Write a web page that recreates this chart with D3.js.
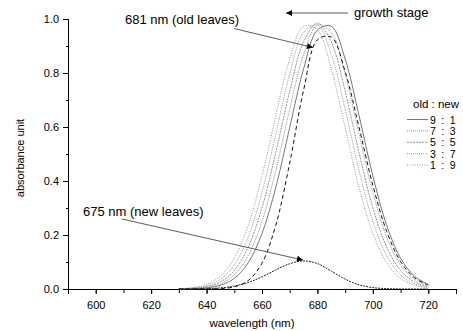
<!DOCTYPE html>
<html><head><meta charset="utf-8">
<script src="https://cdn.jsdelivr.net/npm/d3@7"></script>
<style>body{margin:0;background:#fff}svg{display:block}text{font-family:"Liberation Sans",Arial,sans-serif;fill:#000}</style>
</head><body><svg id="c" width="463" height="331"></svg>
<script>
const wavelengths = [630,635,640,645,650,655,660,665,670,675,680,685,690,695,700,705,710,715,720];
const ratioLabels = ["9 : 1","7 : 3","5 : 5","3 : 7","1 : 9"];
const mix91 = [0.0002,0.0011,0.0041,0.0138,0.0393,0.0968,0.206,0.377,0.598,0.815,0.959,0.973,0.852,0.643,0.419,0.235,0.114,0.0476,0.0171];
const mix73 = [0.0004,0.0017,0.0060,0.0191,0.0523,0.123,0.251,0.440,0.666,0.869,0.978,0.950,0.796,0.574,0.358,0.192,0.089,0.0357,0.0123];
const mix55 = [0.0006,0.0025,0.0087,0.0263,0.0687,0.155,0.301,0.506,0.733,0.915,0.985,0.915,0.733,0.506,0.301,0.155,0.0687,0.0263,0.0087];
const mix37 = [0.0009,0.0036,0.0123,0.0357,0.089,0.192,0.358,0.574,0.796,0.950,0.978,0.869,0.666,0.440,0.251,0.123,0.0523,0.0191,0.0060];
const mix19 = [0.0014,0.0053,0.0171,0.0476,0.114,0.235,0.419,0.643,0.852,0.973,0.959,0.815,0.598,0.377,0.206,0.0968,0.0393,0.0138,0.0041];
const oldLeaves = [0,0,0.0003,0.0016,0.0079,0.031,0.096,0.237,0.467,0.736,0.923,0.933,0.805,0.599,0.384,0.213,0.102,0.0417,0.0148];
const newLeaves = [0.0001,0.0003,0.0013,0.0041,0.0109,0.0242,0.0452,0.0709,0.0936,0.104,0.094,0.0662,0.0364,0.0155,0.0052,0.0013,0.0003,0.0001,0];
const xTicks = [600,620,640,660,680,700,720];
const yTicks = [0.0,0.2,0.4,0.6,0.8,1.0];

const svg = d3.select("#c");
const x = d3.scaleLinear().domain([590,730]).range([68,456]);
const y = d3.scaleLinear().domain([0,1]).range([289,19]);

svg.append("defs").append("marker").attr("id","ah").attr("viewBox","0 0 10 10")
  .attr("refX",10).attr("refY",5).attr("markerWidth",8).attr("markerHeight",6)
  .attr("markerUnits","userSpaceOnUse").attr("orient","auto")
  .append("path").attr("d","M0,0L10,5L0,10z").attr("fill","#000");

const xMinor = d3.range(590,731,10);
const xa = svg.append("g").attr("transform","translate(0,289)");
xa.call(d3.axisBottom(x).tickValues(xMinor).tickSize(4).tickFormat(""));
xa.append("g").call(d3.axisBottom(x).tickValues(xTicks).tickSize(5).tickFormat(d3.format("d")));
const ya = svg.append("g").attr("transform","translate(68,0)");
ya.call(d3.axisLeft(y).tickValues(d3.range(0,1.01,0.1)).tickSize(2).tickFormat(""));
ya.append("g").call(d3.axisLeft(y).tickValues(yTicks).tickSize(5).tickFormat(d3.format(".1f")));
svg.selectAll(".domain").attr("stroke","#000");
svg.selectAll(".tick line").attr("stroke","#000");
svg.selectAll(".tick text").style("font-size","11px").attr("fill","#000");
xa.selectAll(".tick text").attr("dy","1.1em");
ya.selectAll(".tick text").attr("dx","-1px");

svg.append("text").attr("x",252).attr("y",327).attr("text-anchor","middle").style("font-size","11.5px").text("wavelength (nm)");
svg.append("text").attr("transform","translate(24,158) rotate(-90)").attr("text-anchor","middle").style("font-size","11px").text("absorbance unit");

const line = d3.line().x((d,i)=>x(wavelengths[i])).y(d=>y(d)).curve(d3.curveCatmullRom.alpha(0.5));
const series = [
  {v:mix91, dash:null, c:"#555", w:0.8},
  {v:mix73, dash:"1,1", c:"#777", w:0.8},
  {v:mix55, dash:"2,1", c:"#777", w:0.8},
  {v:mix37, dash:"1,1", c:"#888", w:0.8},
  {v:mix19, dash:"1,1.5", c:"#777", w:0.8}
];
series.forEach(s=>{
  svg.append("path").attr("d",line(s.v)).attr("fill","none").attr("stroke",s.c)
    .attr("stroke-width",s.w).attr("stroke-dasharray",s.dash);
});
svg.append("path").attr("d",line(oldLeaves)).attr("fill","none").attr("stroke","#111")
  .attr("stroke-width",1).attr("stroke-dasharray","4,3");
svg.append("path").attr("d",line(newLeaves)).attr("fill","none").attr("stroke","#222")
  .attr("stroke-width",1).attr("stroke-dasharray","2,1");

svg.append("text").attr("x",125).attr("y",24).style("font-size","13px").text("681 nm (old leaves)");
svg.append("line").attr("x1",234).attr("y1",28.5).attr("x2",313).attr("y2",47.5).attr("stroke","#333").attr("stroke-width",0.8).attr("marker-end","url(#ah)");
svg.append("text").attr("x",83).attr("y",216).style("font-size","13px").text("675 nm (new leaves)");
svg.append("line").attr("x1",122).attr("y1",219).attr("x2",303).attr("y2",260).attr("stroke","#333").attr("stroke-width",0.8).attr("marker-end","url(#ah)");
svg.append("text").attr("x",354).attr("y",17).style("font-size","13px").text("growth stage");
svg.append("line").attr("x1",348).attr("y1",13).attr("x2",286).attr("y2",13).attr("stroke","#333").attr("stroke-width",0.8).attr("marker-end","url(#ah)");

svg.append("text").attr("x",413).attr("y",108).style("font-size","11.5px").text("old : new");
ratioLabels.forEach((t,i)=>{
  const yy = 119.5 + i*11.4;
  const s = series[i];
  svg.append("line").attr("x1",407).attr("x2",428).attr("y1",yy).attr("y2",yy)
    .attr("stroke",s.c).attr("stroke-width",0.8).attr("stroke-dasharray",s.dash);
  svg.append("text").attr("x",430).attr("y",yy+4).style("font-size","10.5px").style("letter-spacing","1.3px").text(t);
});
</script></body></html>
